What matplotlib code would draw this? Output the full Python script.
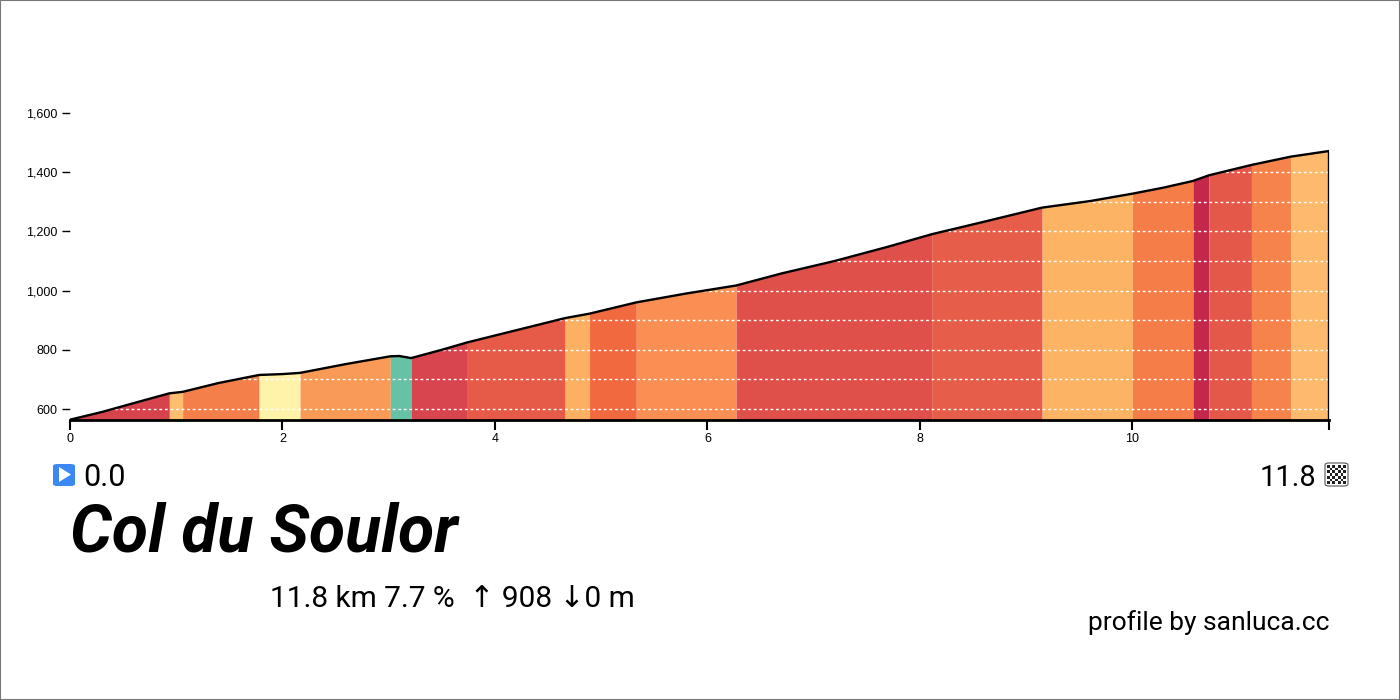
import matplotlib.pyplot as plt
import numpy as np
from matplotlib.patches import FancyBboxPatch, Polygon, Rectangle
from matplotlib.ticker import FuncFormatter

# profile points: distance (km) and elevation (m)
dist = [0, 0.3, 0.6, 0.935, 1.06, 1.4, 1.78, 2.0, 2.165, 2.6, 3.015, 3.1, 3.21,
        3.5, 3.74, 4.2, 4.66, 4.89, 5.33, 5.8, 6.27, 6.7, 7.2, 7.7, 8.11, 8.6,
        9.15, 9.6, 10.0, 10.3, 10.57, 10.72, 11.12, 11.49, 11.85]
elev = [564, 590, 620, 653, 658, 688, 715, 718, 722, 752, 778, 779, 772,
        800, 825, 866, 907, 922, 960, 990, 1017, 1058, 1100, 1148, 1190, 1232,
        1280, 1302, 1327, 1348, 1370, 1389, 1424, 1452, 1471]

# gradient segments (start/end km) and their colours
seg_start = [0, 0.935, 1.06, 1.78, 2.165, 3.015, 3.21, 3.74, 4.66, 4.89, 5.33,
             6.27, 8.11, 9.15, 10.0, 10.57, 10.72, 11.12, 11.49]
seg_end = seg_start[1:] + [11.85]
seg_color = ['#d6434d', '#fdbf6f', '#f47f4b', '#fff3aa', '#f99b57', '#66c2a5',
             '#d8454e', '#e65b48', '#fdb062', '#f1693f', '#f98f52',
             '#e0504b', '#e65e49', '#fdb364', '#f57d48', '#c3284a',
             '#e4584a', '#f7834c', '#fdba6c']

name = 'Col du Soulor'
stats = '11.8 km 7.7 %  \u2191 908 \u21930 m'

ymin, ymax = 563, 1650
d = np.array(dist)
e = np.array(elev)

fig = plt.figure(figsize=(14, 7), dpi=100)
ax = fig.add_axes([70 / 1400, 0.4, (1329 - 70) / 1400, (420 - 98) / 700])

for a, b, c in zip(seg_start, seg_end, seg_color):
    m = (d >= a - 1e-9) & (d <= b + 1e-9)
    ax.fill_between(d[m], ymin, e[m], color=c, linewidth=0, zorder=1)

for g in range(600, 1700, 100):
    ax.axhline(g, color='white', lw=1, ls=(0, (2, 2)), zorder=2)

ax.plot(list(dist) + [dist[-1]], list(elev) + [ymin], color='black', lw=1.7,
        zorder=3, solid_joinstyle='round')

ax.set_xlim(0, dist[-1])
ax.set_ylim(ymin, ymax)
for s in ['top', 'right', 'left']:
    ax.spines[s].set_visible(False)
ax.spines['bottom'].set_linewidth(2)
ax.set_xticks([0, 2, 4, 6, 8, 10])
ax.set_xticks([dist[-1]], minor=True)
ax.set_yticks(range(600, 1700, 200))
ax.yaxis.set_major_formatter(FuncFormatter(lambda v, p: f'{int(v):,}'))
ax.tick_params(axis='x', length=7, width=1.5, labelsize=9, pad=2)
ax.tick_params(axis='x', which='minor', length=7, width=1.5)
ax.tick_params(axis='y', length=6, width=1, labelsize=9, pad=3)
for lab in ax.get_xticklabels() + ax.get_yticklabels():
    lab.set_fontfamily('Liberation Sans')

def fx(px):
    return px / 1400

def fy(py):
    return 1 - py / 700

txt_font = ['Roboto', 'DejaVu Sans']

# start icon
fig.patches.append(FancyBboxPatch((fx(53), fy(486)), fx(22), 22 / 700,
                                  boxstyle='round,pad=0,rounding_size=0.003',
                                  transform=fig.transFigure, facecolor='#3b88f5',
                                  edgecolor='none'))
fig.patches.append(Polygon([(fx(59), fy(467)), (fx(59), fy(482)), (fx(71), fy(474.5))],
                           closed=True, transform=fig.transFigure,
                           facecolor='white', edgecolor='none'))
fig.text(fx(83), fy(486), '0.0', fontsize=22, family=txt_font, ha='left', va='baseline')

# finish icon
fig.text(fx(1316), fy(486), '11.8', fontsize=21, family=txt_font, ha='right', va='baseline')
fig.patches.append(FancyBboxPatch((fx(1325), fy(486)), fx(23), 23 / 700,
                                  boxstyle='round,pad=0,rounding_size=0.003',
                                  transform=fig.transFigure, facecolor='white',
                                  edgecolor='#555555', lw=0.8))
n = 7
cell = 19 / n
for i in range(n):
    for j in range(n):
        if (i + j) % 2 == 0:
            fig.patches.append(Rectangle((fx(1327 + i * cell), fy(484 - j * cell)),
                                         fx(cell), cell / 700,
                                         transform=fig.transFigure,
                                         facecolor='#222222', edgecolor='none'))

fig.text(fx(70), fy(551), name, fontsize=47.5, family=txt_font, weight='bold',
         style='italic', ha='left', va='baseline')
fig.text(fx(270), fy(607), stats, fontsize=21.5, family=txt_font, ha='left', va='baseline')
fig.text(fx(1330), fy(630), 'profile by sanluca.cc', fontsize=19, family=txt_font,
         ha='right', va='baseline')

fig.patches.append(Rectangle((0, 0), 1, 1, transform=fig.transFigure, fill=False,
                             edgecolor='#777777', lw=1.5))

fig.savefig('out.png', dpi=100)
